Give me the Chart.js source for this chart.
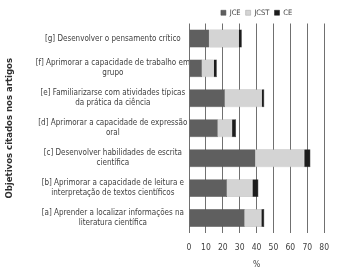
<!DOCTYPE html>
<html>
<head>
<meta charset="utf-8">
<script src="https://cdn.jsdelivr.net/npm/chart.js@4.4.1/dist/chart.umd.min.js"></script>
<style>
  html, body { margin: 0; padding: 0; background: #fff; }
  #wrap { width: 339px; height: 270px; position: relative; }
</style>
</head>
<body>
<div id="wrap"><canvas id="chart"></canvas></div>
<script>
// categories, top to bottom
const categories = [
    ['[g] Desenvolver o pensamento crítico'],
    ['[f] Aprimorar a capacidade de trabalho em', 'grupo'],
    ['[e] Familiarizarse com atividades típicas', 'da prática da ciência'],
    ['[d] Aprimorar a capacidade de expressão', 'oral'],
    ['[c] Desenvolver habilidades de escrita', 'científica'],
    ['[b] Aprimorar a capacidade de leitura e', 'interpretação de textos científicos'],
    ['[a] Aprender a localizar informações na', 'literatura científica'],
];

const jce  = [12.1, 7.7, 21.3, 17.1, 39.4, 22.5, 33.0];
const jcst = [17.3, 6.9, 21.7, 8.4, 28.8, 15.0, 9.8];
const ce   = [1.9, 1.9, 1.6, 2.4, 3.7, 3.6, 1.8];

const xTicks = [0, 10, 20, 30, 40, 50, 60, 70, 80];

const FONT = "'Liberation Sans Narrow', 'DejaVu Sans Condensed', 'Liberation Sans', sans-serif";
const TEXT = '#404040';

// keep the legend over the plot area, like the original
const legendOverPlot = {
    id: 'legendOverPlot',
    afterLayout(chart) {
        const lg = chart.legend;
        lg.left = chart.chartArea.left;
        lg.right = chart.chartArea.right;
        lg.width = lg.right - lg.left;
        lg.top += 3;
        lg.bottom += 3;
    },
};

new Chart(document.getElementById('chart'), {
    type: 'bar',
    data: {
        labels: categories,
        datasets: [
            { label: 'JCE', data: jce, backgroundColor: '#5f5f5f', borderColor: '#4a4a4a', borderWidth: 0.5 },
            { label: 'JCST', data: jcst, backgroundColor: '#d4d4d4', borderColor: '#a0a0a0', borderWidth: 0.5 },
            { label: 'CE', data: ce, backgroundColor: '#1c1c1c', borderColor: '#1c1c1c', borderWidth: 0.5 },
        ],
    },
    plugins: [legendOverPlot],
    options: {
        indexAxis: 'y',
        responsive: true,
        maintainAspectRatio: false,
        animation: false,
        barPercentage: 0.6,
        categoryPercentage: 1.0,
        layout: { padding: { top: 1, right: 9, bottom: 0, left: 0 } },
        plugins: {
            tooltip: { enabled: false },
            legend: {
                position: 'top',
                align: 'center',
                labels: {
                    boxWidth: 5,
                    boxHeight: 5,
                    padding: 5,
                    color: TEXT,
                    font: { family: FONT, size: 7.5 },
                },
            },
        },
        scales: {
            x: {
                stacked: true,
                min: 0,
                max: 80,
                afterBuildTicks: (axis) => { axis.ticks = xTicks.map(v => ({ value: v })); },
                grid: { color: '#707070', lineWidth: 1, drawTicks: false },
                border: { display: false },
                ticks: { color: TEXT, padding: 10, font: { family: FONT, size: 8.5 } },
                title: { display: true, text: '%', color: TEXT, padding: { top: 3, bottom: 0 }, font: { family: FONT, size: 8.5 } },
                afterFit: (scale) => { scale.height = 37; },
            },
            y: {
                stacked: true,
                grid: { display: false, drawTicks: false },
                border: { display: false },
                ticks: {
                    color: TEXT,
                    crossAlign: 'center',
                    padding: -1,
                    font: { family: FONT, size: 8, lineHeight: 1.25 },
                },
                title: {
                    display: true,
                    text: 'Objetivos citados nos artigos',
                    color: '#303030',
                    padding: { top: 4, bottom: 0 },
                    font: { family: FONT, size: 9.5, weight: 'bold' },
                },
                afterFit: (scale) => { scale.width = 189; },
            },
        },
    },
});
</script>
</body>
</html>
